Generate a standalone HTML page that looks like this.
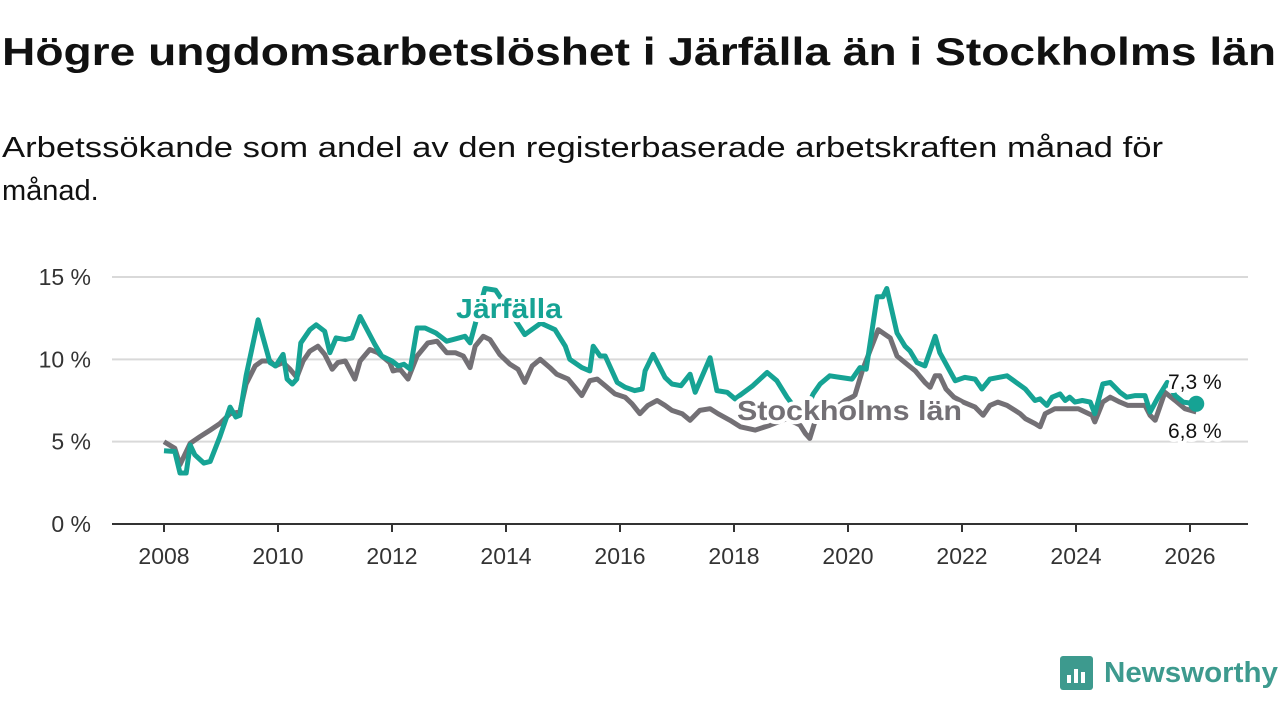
<!DOCTYPE html>
<html><head><meta charset="utf-8"><style>
html,body{margin:0;padding:0;background:#fff;width:1280px;height:720px;overflow:hidden}
svg text{font-family:"Liberation Sans",sans-serif}
</style></head><body>
<svg id="chart" width="1280" height="720" viewBox="0 0 1280 720" xmlns="http://www.w3.org/2000/svg">
<text x="2" y="65" font-size="39" font-weight="bold" fill="#111" textLength="1274" lengthAdjust="spacingAndGlyphs">Högre ungdomsarbetslöshet i Järfälla än i Stockholms län</text>
<text x="2" y="157" font-size="29" fill="#111" textLength="1161" lengthAdjust="spacingAndGlyphs">Arbetssökande som andel av den registerbaserade arbetskraften månad för</text>
<text x="2" y="200" font-size="29" fill="#111">månad.</text>
<g id="grid"></g>
<g id="series"></g>
<g id="labels"></g>
<g>
<rect x="1060" y="656" width="33" height="34" rx="3" fill="#3d9a8e"/>
<rect x="1067" y="675" width="4" height="8" fill="#fff"/><rect x="1074" y="669" width="4" height="14" fill="#fff"/><rect x="1081" y="672" width="4" height="11" fill="#fff"/>
<text x="1104" y="682" font-size="29" font-weight="bold" fill="#3d9a8e" textLength="174" lengthAdjust="spacingAndGlyphs">Newsworthy</text>
</g>
</svg>
<script>
const yTicks = [0, 5, 10, 15];
const xTicks = [2008, 2010, 2012, 2014, 2016, 2018, 2020, 2022, 2024, 2026];
const jarfallaDates = [2008,2008.19,2008.28,2008.39,2008.46,2008.54,2008.70,2008.81,2008.98,2009.16,
2009.26,2009.33,2009.44,2009.65,2009.86,2009.96,2010.09,2010.16,2010.25,2010.33,
2010.40,2010.56,2010.67,2010.82,2010.91,2011.02,2011.18,2011.30,2011.44,2011.70,
2011.82,2012.00,2012.11,2012.21,2012.32,2012.44,2012.58,2012.77,2012.96,2013.07,
2013.28,2013.37,2013.63,2013.82,2014.33,2014.61,2014.86,2015.04,2015.12,2015.33,
2015.47,2015.53,2015.65,2015.74,2015.95,2016.09,2016.26,2016.39,2016.44,2016.58,
2016.79,2016.91,2017.07,2017.23,2017.32,2017.58,2017.70,2017.88,2018.02,2018.33,
2018.58,2018.75,2018.93,2019.10,2019.25,2019.39,2019.51,2019.68,2019.86,2020.07,2020.21,2020.32,
2020.51,2020.61,2020.68,2020.86,2021.00,2021.09,2021.21,2021.35,2021.53,2021.61,
2021.88,2022.05,2022.23,2022.35,2022.49,2022.79,2023.11,2023.28,2023.37,2023.49,
2023.58,2023.72,2023.81,2023.89,2023.98,2024.11,2024.25,2024.33,2024.47,2024.60,
2024.77,2024.89,2025.04,2025.21,2025.30,2025.44,2025.60,2025.74,2025.88,2026.11];
const jarfallaValues = [4.45,4.4,3.1,3.1,4.8,4.2,3.7,3.8,5.3,7.1,
6.5,6.6,9.0,12.4,9.8,9.6,10.3,8.8,8.5,8.8,
11.0,11.8,12.1,11.7,10.4,11.3,11.2,11.3,12.6,10.9,
10.2,9.9,9.6,9.7,9.4,11.9,11.9,11.6,11.1,11.2,
11.4,11.0,14.3,14.2,11.5,12.2,11.8,10.8,10.0,9.5,
9.3,10.8,10.2,10.2,8.6,8.3,8.1,8.2,9.3,10.3,
8.9,8.5,8.4,9.1,8.0,10.1,8.1,8.0,7.6,8.4,
9.2,8.7,7.7,6.9,6.8,7.9,8.5,9.0,8.9,8.8,9.5,9.4,
13.8,13.8,14.3,11.6,10.8,10.5,9.8,9.6,11.4,10.4,
8.7,8.9,8.8,8.2,8.8,9.0,8.2,7.5,7.6,7.2,
7.7,7.9,7.5,7.7,7.4,7.5,7.4,6.7,8.5,8.6,
8.0,7.7,7.8,7.8,6.8,7.7,8.6,7.8,7.4,7.3];
const stockholmDates = [2008,2008.19,2008.28,2008.46,2008.63,2008.81,2008.98,2009.16,2009.33,2009.44,
2009.60,2009.72,2009.86,2009.95,2010.09,2010.21,2010.33,2010.44,2010.56,2010.70,
2010.82,2010.95,2011.05,2011.18,2011.35,2011.44,2011.61,2011.75,2011.96,2012.02,
2012.14,2012.28,2012.44,2012.63,2012.79,2012.96,2013.11,2013.25,2013.37,2013.46,
2013.60,2013.72,2013.89,2014.07,2014.21,2014.33,2014.46,2014.60,2014.77,2014.89,
2015.09,2015.21,2015.33,2015.47,2015.60,2015.74,2015.91,2016.09,2016.21,2016.35,
2016.49,2016.65,2016.79,2016.91,2017.09,2017.23,2017.40,2017.58,2017.72,2017.93,
2018.11,2018.37,2018.63,2018.93,2019.16,2019.25,2019.33,2019.42,2019.68,2019.95,
2020.12,2020.26,2020.53,2020.74,2020.86,2021.00,2021.18,2021.35,2021.44,2021.53,
2021.61,2021.72,2021.86,2022.02,2022.23,2022.37,2022.49,2022.63,2022.79,2022.93,
2023.02,2023.11,2023.28,2023.37,2023.46,2023.63,2023.89,2024.04,2024.16,2024.28,
2024.33,2024.47,2024.60,2024.77,2024.91,2025.21,2025.30,2025.39,2025.56,2025.74,
2025.91,2026.11];
const stockholmValues = [5.0,4.6,3.6,4.9,5.3,5.7,6.1,6.7,6.8,8.5,
9.6,9.9,9.9,9.6,9.8,9.4,8.9,9.9,10.5,10.8,
10.3,9.4,9.8,9.9,8.8,9.9,10.6,10.4,9.8,9.3,
9.4,8.8,10.2,11.0,11.1,10.4,10.4,10.2,9.5,10.8,
11.4,11.2,10.3,9.7,9.4,8.6,9.6,10.0,9.5,9.1,
8.8,8.3,7.8,8.7,8.8,8.4,7.9,7.7,7.3,6.7,
7.2,7.5,7.2,6.9,6.7,6.3,6.9,7.0,6.7,6.3,
5.9,5.7,6.0,6.4,6.0,5.5,5.2,6.2,6.8,7.5,
7.8,9.4,11.8,11.3,10.2,9.8,9.3,8.6,8.3,9.0,
9.0,8.2,7.7,7.4,7.1,6.6,7.2,7.4,7.2,6.9,
6.7,6.4,6.1,5.9,6.7,7.0,7.0,7.0,6.8,6.6,
6.2,7.4,7.7,7.4,7.2,7.2,6.6,6.3,8.0,7.5,
7.0,6.8];
const endLabels = ["7,3 %", "6,8 %"];

const NS = "http://www.w3.org/2000/svg";
const X0 = 164, X1 = 1190, Y0 = 524, Y15 = 277;
function xScale(yr){ return X0 + (yr - 2008) * (X1 - X0) / 18; }
function yScale(v){ return Y0 - v * (Y0 - Y15) / 15; }
function mk(tag, attrs, parent){ const e = document.createElementNS(NS, tag); for (const k in attrs) e.setAttribute(k, attrs[k]); parent.appendChild(e); return e; }

const grid = document.getElementById('grid');
yTicks.forEach(t => {
  if (t > 0) {
    const l = mk('line', {x1:112, x2:1248, y1:yScale(t), y2:yScale(t), stroke:'#d9d9d9', 'stroke-width':2}, grid);
    
    
  }
  const tx = mk('text', {x:91, y:yScale(t)+8, 'font-size':23, fill:'#333', 'text-anchor':'end'}, grid);
  tx.textContent = t + ' %';
  
  
});
const axis = mk('line', {x1:112, x2:1248, y1:Y0, y2:Y0, stroke:'#333', 'stroke-width':2}, grid);


xTicks.forEach(t => {
  const tk = mk('line', {x1:xScale(t), x2:xScale(t), y1:Y0, y2:Y0+8, stroke:'#333', 'stroke-width':2}, grid);
  
  
  const tx = mk('text', {x:xScale(t), y:564, 'font-size':23, fill:'#333', 'text-anchor':'middle'}, grid);
  tx.textContent = t;
  
  
});

const series = document.getElementById('series');
function path(d, v){ return d.map((yr,i)=>(i?'L':'M')+xScale(yr).toFixed(1)+','+yScale(v[i]).toFixed(1)).join(''); }
const sPath = mk('path', {d:path(stockholmDates, stockholmValues), fill:'none', stroke:'#737075', 'stroke-width':5, 'stroke-linejoin':'round'}, series);


const jPath = mk('path', {d:path(jarfallaDates, jarfallaValues), fill:'none', stroke:'#16a394', 'stroke-width':5, 'stroke-linejoin':'round'}, series);


const lastJ = jarfallaValues.length - 1;
const dot = mk('circle', {cx:xScale(jarfallaDates[lastJ]), cy:yScale(jarfallaValues[lastJ]), r:8, fill:'#16a394'}, series);



const labels = document.getElementById('labels');
function halo(x, y, txt, size, weight, color, len, name){
  const extra = len ? {textLength:len, lengthAdjust:'spacingAndGlyphs'} : {};
  const h = mk('text', Object.assign({x:x, y:y, 'font-size':size, 'font-weight':weight, fill:'#fff', stroke:'#fff', 'stroke-width':8, 'stroke-linejoin':'round'}, extra), labels);
  h.textContent = txt;
  
  
  const t = mk('text', Object.assign({x:x, y:y, 'font-size':size, 'font-weight':weight, fill:color}, extra), labels);
  t.textContent = txt;
  
  
}
halo(456, 318, 'Järfälla', 28, 'bold', '#16a394', 106, 'jarfalla-label');
halo(737, 420, 'Stockholms län', 28, 'bold', '#737075', 225, 'stockholms-lan-label');
halo(1168, 389, endLabels[0], 21, 'normal', '#111', 0, 'jarfalla-end-value');
halo(1168, 438, endLabels[1], 21, 'normal', '#111', 0, 'stockholm-end-value');
</script>
</body></html>
